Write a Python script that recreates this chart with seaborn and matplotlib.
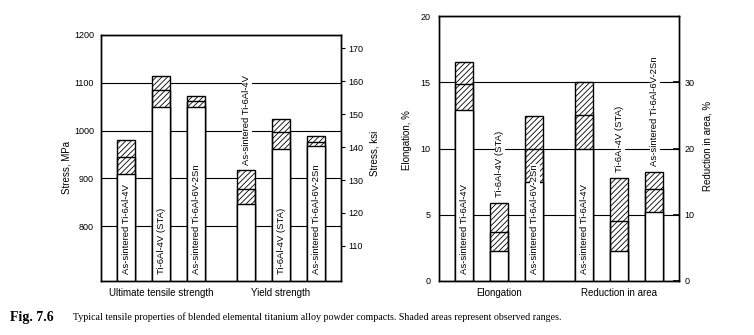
import matplotlib
matplotlib.use("Agg")
import matplotlib.pyplot as plt
import pandas as pd
import seaborn as sns

# ---------------- data ----------------
alloys = ["As-sintered Ti-6Al-4V", "Ti-6Al-4V (STA)", "As-sintered Ti-6Al-6V-2Sn"]
stress_groups = ["Ultimate tensile strength", "Yield strength"]
ductility_groups = ["Elongation", "Reduction in area"]

uts_low = [910, 1050, 1050]
uts_mid = [945, 1085, 1062]
uts_high = [981, 1114, 1073]

ys_low = [846, 962, 967]
ys_mid = [877, 997, 976]
ys_high = [917, 1024, 988]

elong_low = [12.9, 2.3, 7.5]
elong_mid = [14.85, 3.7, 10.0]
elong_high = [16.55, 5.9, 12.45]

ra_low = [20.0, 4.6, 10.4]
ra_mid = [25.0, 9.1, 13.9]
ra_high = [30.0, 15.6, 16.5]

mpa_ticks = [800, 900, 1000, 1100, 1200]
ksi_ticks = [110, 120, 130, 140, 150, 160, 170]
elong_ticks = [0, 5, 10, 15, 20]
ra_ticks = [0, 10, 20, 30]
MPA_PER_KSI = 6.895

caption_head = "Fig. 7.6"
caption_body = ("Typical tensile properties of blended elemental titanium alloy powder "
                "compacts. Shaded areas represent observed ranges.")


def frame(group, low, mid, high):
    return pd.DataFrame({"group": group, "alloy": alloys,
                         "low": low, "mid": mid, "high": high})


stress_df = pd.concat([frame(stress_groups[0], uts_low, uts_mid, uts_high),
                       frame(stress_groups[1], ys_low, ys_mid, ys_high)],
                      ignore_index=True)
elong_df = frame(ductility_groups[0], elong_low, elong_mid, elong_high)
ra_df = frame(ductility_groups[1], ra_low, ra_mid, ra_high)

# ---------------- style ----------------
sns.set_theme(style="white", rc={
    "axes.edgecolor": "black", "axes.linewidth": 1.0,
    "text.color": "black", "axes.labelcolor": "black",
    "xtick.color": "black", "ytick.color": "black",
    "grid.color": "black", "grid.linewidth": 0.8,
})
plt.rcParams["font.family"] = ["Liberation Sans", "DejaVu Sans"]
plt.rcParams["hatch.color"] = "black"
plt.rcParams["hatch.linewidth"] = 0.6

W, H = 754, 335
fig = plt.figure(figsize=(W / 100, H / 100), dpi=100)
axL = fig.add_axes([101 / W, 54 / H, 240 / W, 246 / H])
axR = fig.add_axes([439 / W, 54 / H, 240 / W, 265 / H])

BAR_KW = dict(hue="alloy", hue_order=alloys, dodge=True, width=0.875, gap=0.49,
              errorbar=None, legend=False, linewidth=1.0)


def draw_bars(ax, df, order):
    sns.barplot(data=df, x="group", y="high", order=order, palette=["white"] * 3,
                edgecolor="black", hatch="//////", ax=ax, **BAR_KW)
    sns.barplot(data=df, x="group", y="mid", order=order, palette=["black"] * 3,
                fill=False, ax=ax, **BAR_KW)
    sns.barplot(data=df, x="group", y="low", order=order, palette=["white"] * 3,
                edgecolor="black", ax=ax, **BAR_KW)
    return ax.containers[-3:]


def label_bars(ax, conts, df, order, modes):
    for ai, cont in enumerate(conts):
        for bar in cont:
            if bar.get_height() == 0 or pd.isna(bar.get_height()):
                continue
            x = bar.get_x() + bar.get_width() / 2
            gi = int(round(x))
            if gi < 0 or gi >= len(order):
                continue
            row = df[(df.group == order[gi]) & (df.alloy == alloys[ai])]
            if row.empty:
                continue
            mode = modes[(gi, ai)]
            kw = dict(rotation=90, ha="center", va="bottom", fontsize=6.8,
                      bbox=dict(facecolor="white", edgecolor="none", pad=0.3),
                      textcoords="offset points", zorder=5)
            if mode == "above":
                ax.annotate(alloys[ai], xy=(x, row["high"].iloc[0]), xycoords="data",
                            xytext=(0.5, 4), **kw)
            else:
                ax.annotate(alloys[ai], xy=(x, 0), xycoords=("data", "axes fraction"),
                            xytext=(0.5, 5), **kw)


# ---------------- left: stress ----------------
axL.set_axisbelow(True)
contsL = draw_bars(axL, stress_df, stress_groups)
axL.set_ylim(685, 1200)
axL.set_xlim(-0.5, 1.5)
axL.set_yticks(mpa_ticks)
axL.yaxis.grid(True)
axL.tick_params(axis="y", length=0, pad=5, labelsize=6.5)
axL.tick_params(axis="x", length=0, pad=5, labelsize=7)
axL.set_xlabel("")
axL.set_ylabel("Stress, MPa", fontsize=7)
axL.yaxis.set_label_coords(-0.121, 0.46)
label_bars(axL, contsL, stress_df, stress_groups,
           {(0, 0): "in", (0, 1): "in", (0, 2): "in",
            (1, 0): "above", (1, 1): "in", (1, 2): "in"})

axL2 = axL.twinx()
axL2.set_ylim(685 / MPA_PER_KSI, 1200 / MPA_PER_KSI)
axL2.set_yticks(ksi_ticks)
axL2.tick_params(axis="y", direction="out", length=3, width=0.8, pad=2, labelsize=6.5)
axL2.set_ylabel("Stress, ksi", fontsize=7)
axL2.yaxis.set_label_coords(1.117, 0.52)
axL2.grid(False)

# ---------------- right: ductility ----------------
axR.set_axisbelow(True)
contsE = draw_bars(axR, elong_df, ductility_groups)
axR.set_ylim(0, 20)
axR.set_xlim(-0.5, 1.5)
axR.set_yticks(elong_ticks)
axR.yaxis.grid(True)
axR.tick_params(axis="y", length=0, pad=6, labelsize=6.5)
axR.tick_params(axis="x", length=0, pad=5, labelsize=7)
axR.set_xlabel("")
axR.set_ylabel("Elongation, %", fontsize=7)
axR.yaxis.set_label_coords(-0.1125, 0.53)
label_bars(axR, contsE, elong_df, ductility_groups,
           {(0, 0): "in", (0, 1): "above", (0, 2): "in"})

axR2 = axR.twinx()
axR2.grid(False)
contsRA = draw_bars(axR2, ra_df, ductility_groups)
axR2.set_ylim(0, 40)
axR2.set_xlim(-0.5, 1.5)
axR2.set_yticks(ra_ticks)
axR2.tick_params(axis="y", direction="in", length=4, width=1.2, pad=4, labelsize=6.5)
axR2.set_ylabel("Reduction in area, %", fontsize=7)
axR2.yaxis.set_label_position("right")
axR2.yaxis.set_label_coords(1.1, 0.51)
label_bars(axR2, contsRA, ra_df, ductility_groups,
           {(1, 0): "in", (1, 1): "above", (1, 2): "above"})

# ---------------- caption ----------------
fig.text(10 / W, 1 - 317 / H, caption_head, fontsize=10, fontweight="bold",
         family="Liberation Serif", va="center", ha="left")
fig.text(73 / W, 1 - 317.5 / H, caption_body, fontsize=7.2,
         family="Liberation Serif", va="center", ha="left")

fig.savefig("out.png", dpi=100)
